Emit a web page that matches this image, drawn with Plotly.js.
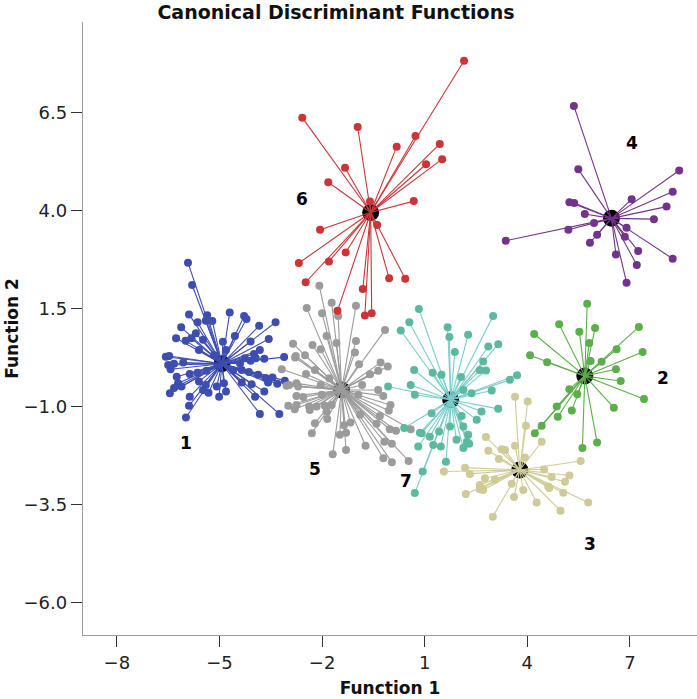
<!DOCTYPE html>
<html><head><meta charset="utf-8">
<script src="https://cdn.plot.ly/plotly-3.0.1.min.js"></script>
<style>html,body{margin:0;padding:0;background:#fff}#chart{width:697px;height:699px}</style>
</head><body><div id="chart"></div>
<script>
// Group 1 (blue)
const g1x = [-5.92,-5.80,-5.89,-5.36,-4.70,-4.28,-4.21,-6.12,-5.64,-5.40,-5.21,-3.36,-3.84,-4.55,-5.69,-6.27,-5.99,-5.82,-5.48,-4.90,-4.09,-3.56,-5.60,-6.57,-6.47,-6.50,-6.33,-6.06,-5.16,-4.81,-4.26,-3.99,-3.94,-3.69,-3.11,-4.09,-6.43,-6.25,-5.87,-5.64,-5.38,-4.60,-4.35,-4.14,-3.87,-3.65,-3.45,-3.31,-3.09,-3.58,-6.21,-5.60,-5.40,-5.08,-4.87,-4.35,-4.06,-6.45,-6.33,-5.87,-5.32,-5.01,-4.81,-3.96,-3.69,-5.89,-5.98,-3.82,-3.25,-5.48,-6.11,-4.40,-3.82];
const g1y = [2.68,2.11,1.36,1.34,1.41,1.32,1.24,1.03,1.16,1.20,1.19,1.16,1.07,0.81,0.88,0.75,0.69,0.75,0.71,0.66,0.67,0.73,0.45,0.28,0.30,0.07,0.10,0.13,0.32,0.45,0.24,0.35,0.24,0.23,0.27,0.18,-0.04,-0.23,-0.16,-0.13,-0.08,-0.07,-0.06,-0.11,-0.18,-0.26,-0.25,-0.41,-0.33,-0.38,-0.40,-0.35,-0.44,-0.48,-0.40,-0.38,-0.42,-0.65,-0.52,-0.74,-0.64,-0.74,-0.61,-0.74,-0.61,-0.97,-1.27,-1.18,-1.18,-0.57,-0.48,0.11,0.45];
// Group 2 (green)
const g2x = [5.75,4.93,4.20,5.52,5.98,7.26,5.81,6.61,7.37,4.08,4.58,5.85,6.17,6.59,6.73,7.41,5.23,5.46,4.86,5.30,6.53,4.89,4.42,4.22,6.04,5.61];
const g2y = [1.63,1.11,0.86,0.92,1.01,1.04,0.63,0.47,0.40,0.32,0.14,0.17,0.15,-0.04,-0.34,-0.80,-0.55,-0.68,-0.99,-1.09,-1.02,-1.25,-1.48,-1.67,-1.91,-2.05];
// Group 3 (khaki)
const g3x = [3.64,4.01,3.96,2.79,3.64,4.42,2.86,3.25,3.35,3.17,3.93,5.56,1.56,2.18,2.32,4.49,5.23,4.71,5.10,2.76,2.61,3.05,3.54,2.61,2.71,3.88,4.61,4.64,5.05,2.20,3.61,4.27,5.78,4.97,2.99];
const g3y = [-0.74,-0.86,-1.48,-1.77,-1.99,-1.89,-2.12,-2.08,-2.10,-2.33,-2.29,-2.38,-2.65,-2.55,-2.71,-2.59,-2.75,-2.79,-2.91,-2.82,-2.99,-2.86,-2.96,-3.10,-3.12,-3.12,-3.03,-3.07,-3.19,-3.22,-3.30,-3.44,-3.44,-3.65,-3.80];
// Group 4 (purple)
const g4x = [5.36,5.49,8.44,8.25,5.23,5.37,7.05,8.07,5.68,7.70,5.95,5.20,6.90,3.37,6.04,6.85,5.83,7.24,6.59,8.25,7.20,6.90];
const g4y = [6.68,5.06,5.03,4.49,4.22,4.20,4.30,4.11,3.92,3.79,3.69,3.52,3.57,3.24,3.39,3.34,3.19,2.98,2.89,2.78,2.62,2.17];
// Group 5 (gray)
const g5x = [-2.08,-1.72,-2.45,-2.00,-1.53,-1.01,-0.16,-1.87,-1.58,-1.01,-2.85,-2.28,-2.04,-1.04,-2.79,-2.50,-0.92,-0.29,-0.08,-0.36,-3.18,-2.47,-2.21,-0.60,-1.79,-0.83,-2.96,-2.70,-2.04,-0.36,-0.21,-2.75,-2.55,-2.01,-0.94,-2.99,-2.80,-2.38,-1.92,-1.72,0.00,-0.05,-2.36,-0.89,-0.31,-1.87,-2.21,-1.85,-1.17,-1.36,-0.41,-0.02,0.16,-2.30,-1.48,-1.30,-0.73,-0.18,0.04,-1.30,-1.69,-0.21,0.04,0.53,0.59,-2.77,-3.04,-2.75,-2.75,-2.16];
const g5y = [2.09,1.66,1.52,1.39,1.32,1.58,0.96,0.81,0.63,0.68,0.61,0.58,0.47,0.39,0.26,0.32,0.09,0.13,0.03,-0.08,-0.04,-0.16,-0.06,-0.17,-0.27,-0.44,-0.44,-0.48,-0.44,-0.57,-0.72,-0.72,-0.75,-0.69,-0.69,-0.97,-1.06,-0.99,-0.97,-0.95,-0.95,-1.09,-1.08,-1.20,-1.23,-1.12,-1.42,-1.31,-1.40,-1.47,-1.43,-1.57,-1.61,-1.67,-1.71,-1.66,-1.99,-1.89,-1.94,-2.10,-2.21,-2.31,-2.41,-2.38,-1.57,0.30,-0.46,-0.40,-0.95,-0.99];
// Group 6 (red)
const g6x = [2.15,-2.58,-0.96,0.73,0.18,1.44,1.51,1.04,-1.33,-1.82,0.68,-0.60,-0.39,-2.06,-2.68,-1.80,-1.31,-2.48,-0.04,0.43,-0.81,-1.55,-0.75,-0.55];
const g6y = [7.83,6.38,6.14,5.91,5.64,5.71,5.32,5.19,5.10,4.73,4.25,4.24,3.64,3.52,2.67,2.71,2.94,2.18,2.28,2.27,2.01,1.45,1.33,1.39];
// Group 7 (teal)
const g7x = [0.83,0.55,0.30,3.00,1.67,1.72,2.27,2.86,3.15,1.88,2.71,2.61,2.79,0.69,1.23,1.49,2.06,3.70,3.49,-0.07,0.59,0.71,2.13,2.37,2.96,2.66,3.15,2.52,1.20,2.08,1.74,2.13,0.40,0.91,1.15,1.42,0.81,1.47,1.93,2.27,2.23,2.30,2.13,1.62,0.94,0.71,1.25,0.86];
const g7y = [1.50,1.16,0.95,1.32,1.03,0.78,0.84,0.54,0.60,0.40,0.16,-0.06,-0.07,-0.06,-0.13,-0.18,-0.24,-0.19,-0.31,-0.48,-0.44,-0.69,-0.57,-0.65,-0.58,-1.12,-1.05,-1.33,-1.16,-1.23,-1.50,-1.50,-1.54,-1.67,-1.76,-1.63,-2.01,-2.01,-1.84,-1.71,-1.89,-1.94,-2.05,-2.40,-2.65,-3.20,-1.97,-1.66];

const centroidX = [-4.93, 5.68, 3.78, 6.46, -1.43, -0.58, 1.76];
const centroidY = [0.10, -0.21, -2.61, 3.81, -0.57, 3.96, -0.82];
const groupNames = ['1','2','3','4','5','6','7'];
const labelX = [-5.98, 7.97, 5.83, 7.06, -2.21, -2.59, 0.45];
const labelY = [-1.93, -0.26, -4.50, 5.73, -2.58, 4.31, -2.88];
const xTicks = [-8, -5, -2, 1, 4, 7];
const yTicks = [6.5, 4.0, 1.5, -1.0, -3.5, -6.0];

const groups = [[g1x,g1y],[g2x,g2y],[g3x,g3y],[g4x,g4y],[g5x,g5y],[g6x,g6y],[g7x,g7y]];
const pointColors = ['#3d4db0','#5cae4c','#cfcb98','#72348a','#9b9b9b','#cc3437','#5cb9a0'];
const lineColors  = ['#3d4db0','#5cae4c','#cfcb98','#72348a','#9b9b9b','#cc3437','#79cdcc'];

const traces = [];
traces.push({type:'scatter', mode:'markers', x:centroidX, y:centroidY, hoverinfo:'skip',
  marker:{color:'#000', size:17}, showlegend:false});
groups.forEach((g, i) => {
  const lx = [], ly = [];
  g[0].forEach((v, k) => { lx.push(centroidX[i], v, null); ly.push(centroidY[i], g[1][k], null); });
  traces.push({type:'scatter', mode:'lines', x:lx, y:ly, hoverinfo:'skip',
    line:{color:lineColors[i], width:1.1}, showlegend:false});
});
groups.forEach((g, i) => {
  traces.push({type:'scatter', mode:'markers', x:g[0], y:g[1], name:groupNames[i],
    marker:{color:pointColors[i], size:8}, showlegend:false});
});

const font = 'DejaVu Sans, Arial, sans-serif';
const annotations = groupNames.map((n, i) => ({x:labelX[i], y:labelY[i], text:'<b>'+n+'</b>', showarrow:false,
  font:{family:font, size:17, color:'#000'}}));

const layout = {
  width:697, height:699,
  margin:{l:83, r:0, t:22, b:64},
  paper_bgcolor:'#fff', plot_bgcolor:'#fff',
  showlegend:false,
  title:{text:'<b>Canonical Discriminant Functions</b>', font:{family:font, size:19, color:'#111'},
    x:0.482, xanchor:'center', xref:'container', y:0.982, yanchor:'middle'},
  xaxis:{range:[-8.99, 8.96], tickvals:xTicks, ticks:'outside', ticklen:11, tickcolor:'#333', tickwidth:1,
    showline:true, linecolor:'#999', linewidth:1.2, showgrid:false, zeroline:false, automargin:false,
    tickfont:{family:font, size:18, color:'#222'},
    title:{text:'<b>Function 1</b>', font:{family:font, size:17, color:'#111'}, standoff:10}},
  yaxis:{range:[-6.82, 8.82], tickvals:yTicks, tickformat:'.1f', ticks:'outside', ticklen:11, tickcolor:'#333', tickwidth:1,
    showline:true, linecolor:'#999', linewidth:1.2, showgrid:false, zeroline:false, automargin:false,
    tickfont:{family:font, size:18, color:'#222'},
    title:{text:'<b>Function 2</b>', font:{family:font, size:17, color:'#111'}, standoff:0}},
  annotations: annotations
};
Plotly.newPlot('chart', traces, layout, {displayModeBar:false, staticPlot:true});
</script>
</body></html>
